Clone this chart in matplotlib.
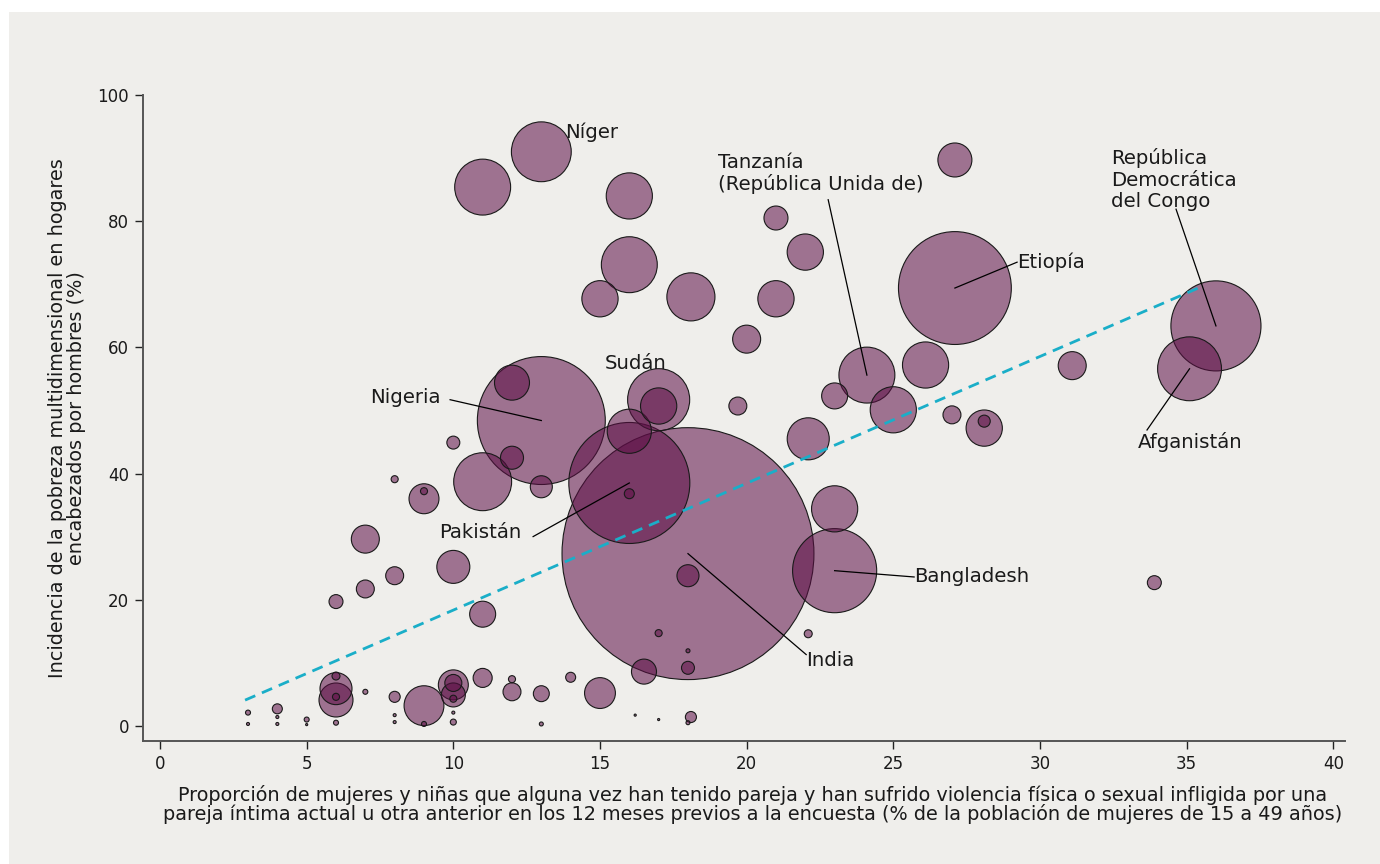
import matplotlib
matplotlib.use("Agg")
import matplotlib.pyplot as plt
from matplotlib.patches import Rectangle
import numpy as np

plt.rcParams["font.family"] = ["DejaVu Sans"]

#
# Data
#

# violencia de pareja (%), pobreza multidimensional (%), tamano (burbuja)
violencia = [
    13.0, 11.0, 16.0, 16.0, 15.0, 18.1, 27.1, 21.0, 22.0, 21.0,
    20.0, 27.1, 26.1, 24.1, 23.0, 25.0, 27.0, 28.1, 28.1, 22.1,
    31.1, 36.0, 35.1, 33.9, 19.7, 13.0, 12.0, 12.0, 13.0, 11.0,
    10.0, 8.0, 9.0, 9.0, 17.0, 17.0, 16.0, 16.0, 16.0, 18.0,
    18.0, 10.0, 8.0, 7.0, 7.0, 6.0, 11.0, 23.0, 23.0, 22.1,
    17.0, 18.0, 18.0, 16.5, 18.1, 15.0, 14.0, 13.0, 12.0, 12.0,
    11.0, 10.0, 10.0, 10.0, 10.0, 10.0, 10.0, 9.0, 9.0, 8.0,
    8.0, 8.0, 7.0, 6.0, 6.0, 6.0, 6.0, 6.0, 4.0, 4.0,
    4.0, 3.0, 3.0, 5.0, 5.0, 13.0, 16.2, 17.0, 18.0,
]
pobreza = [
    91.0, 85.4, 84.0, 73.1, 67.7, 68.0, 89.7, 80.5, 75.1, 67.7,
    61.3, 69.4, 57.2, 55.6, 52.3, 50.1, 49.3, 47.2, 48.3, 45.5,
    57.1, 63.4, 56.6, 22.7, 50.7, 48.4, 54.4, 42.5, 37.9, 38.7,
    44.9, 39.1, 36.0, 37.2, 51.7, 50.7, 46.7, 38.5, 36.8, 27.3,
    23.8, 25.2, 23.8, 29.6, 21.7, 19.7, 17.7, 24.6, 34.4, 14.6,
    14.7, 11.9, 9.2, 8.6, 1.4, 5.2, 7.7, 5.1, 5.4, 7.4,
    7.6, 6.5, 4.9, 6.8, 4.3, 2.1, 0.6, 3.2, 0.3, 4.6,
    1.7, 0.6, 5.4, 5.9, 4.1, 7.9, 4.6, 0.5, 2.7, 1.4,
    0.3, 2.1, 0.3, 1.0, 0.2, 0.3, 1.7, 1.0, 0.5,
]
tamano = [
    79, 69, 47, 69, 29, 51, 25.5, 12.7, 29, 29,
    17.3, 281, 47, 69, 14.9, 47, 7.1, 29, 3.2, 39,
    17.3, 179, 90, 4.3, 7.1, 361, 27, 11.7, 10.7, 74,
    3.7, 1.1, 19.8, 1.1, 85, 29, 43, 323, 2.2, 1400,
    10.7, 24, 7.1, 17.3, 7.1, 4.3, 14.9, 156, 47, 1.4,
    1.1, 0.35, 3.7, 13.8, 2.7, 21, 2.2, 5.6, 7.1, 1.1,
    8.0, 19.8, 12.7, 6.4, 1.1, 0.2, 0.8, 35, 0.55, 2.7,
    0.2, 0.2, 0.55, 22.6, 25.5, 1.4, 1.1, 0.55, 2.2, 0.2,
    0.2, 0.55, 0.2, 0.55, 0.1, 0.35, 0.1, 0.1, 0.35,
]
nombres = [""] * len(violencia)
nombres[0] = "Níger"
nombres[11] = "Etiopía"
nombres[13] = "Tanzanía"
nombres[21] = "RDC"
nombres[22] = "Afganistán"
nombres[25] = "Nigeria"
nombres[34] = "Sudán"
nombres[37] = "Pakistán"
nombres[39] = "India"
nombres[47] = "Bangladesh"

# trend line
tendencia_pendiente = 2.01
tendencia_origen = -1.75
tendencia_x = [2.9, 35.6]

xticks = [0, 5, 10, 15, 20, 25, 30, 35, 40]
yticks = [0, 20, 40, 60, 80, 100]

#
# Styling
#
bg_color = "#efeeeb"
bubble_rgba = (0.36, 0.05, 0.27, 0.55)
edge_color = "#1a1a1a"
trend_color = "#1aaec8"
text_color = "#1a1a1a"
escala = 23.5  # scatter area (pt^2) per unit of tamano
label_size = 13.9
note_size = 14.2

fig = plt.figure(figsize=(13.8, 8.64), dpi=100, facecolor="white")
fig.patches.append(
    Rectangle((9 / 1380, 0), 1 - 9 / 1380, 1 - 12 / 864, transform=fig.transFigure,
              facecolor=bg_color, edgecolor="none", zorder=-10)
)
ax = fig.add_axes([143 / 1380, 123 / 864, 1202 / 1380, 646 / 864])
ax.set_facecolor("none")

x = np.array(violencia)
y = np.array(pobreza)
t = np.array(tamano)
orden = np.argsort(-t)
ax.scatter(x[orden], y[orden], s=t[orden] * escala, facecolors=[bubble_rgba],
           edgecolors=edge_color, linewidths=0.8, zorder=2)

tx = np.array(tendencia_x)
ax.plot(tx, tendencia_pendiente * tx + tendencia_origen, color=trend_color,
        lw=2.0, ls=(0, (4, 2.6)), zorder=3)


def punto(nombre):
    i = nombres.index(nombre)
    return violencia[i], pobreza[i]


def etiqueta(texto, tx, ty, ha="left", linea=None, nombre=None):
    ax.text(tx, ty, texto, ha=ha, va="center", fontsize=note_size,
            color=text_color, linespacing=1.15, zorder=5)
    if linea is not None:
        px, py = punto(nombre)
        ax.plot([linea[0], px], [linea[1], py], color="black", lw=0.9, zorder=4)


etiqueta("Níger", 13.81, 94.1)
etiqueta("Sudán", 16.23, 57.4, ha="center")
etiqueta("Tanzanía\n(República Unida de)", 19.02, 87.6, linea=(22.78, 83.4), nombre="Tanzanía")
etiqueta("Etiopía", 29.22, 73.5, linea=(29.22, 73.5), nombre="Etiopía")
etiqueta("República\nDemocrática\ndel Congo", 32.42, 86.6, linea=(34.64, 81.9), nombre="RDC")
etiqueta("Afganistán", 33.34, 45.0, linea=(33.65, 46.9), nombre="Afganistán")
etiqueta("Nigeria", 9.58, 52.1, ha="right", linea=(9.89, 51.7), nombre="Nigeria")
etiqueta("Pakistán", 12.31, 30.6, ha="right", linea=(12.72, 30.0), nombre="Pakistán")
etiqueta("India", 22.03, 10.3, linea=(22.03, 11.3), nombre="India")
etiqueta("Bangladesh", 25.71, 23.6, linea=(25.71, 23.6), nombre="Bangladesh")

# Axes formatting
ax.set_xlim(-0.58, 40.4)
ax.set_ylim(-2.4, 100)
ax.set_xticks(xticks)
ax.set_yticks(yticks)
for side in ["top", "right"]:
    ax.spines[side].set_visible(False)
for side in ["left", "bottom"]:
    ax.spines[side].set_color("#555555")
    ax.spines[side].set_linewidth(1.4)
ax.tick_params(axis="both", length=6, width=1.0, color="#222222",
               labelsize=12, labelcolor=text_color, pad=4)

ax.set_xlabel(
    "Proporción de mujeres y niñas que alguna vez han tenido pareja y han sufrido violencia física o sexual infligida por una\n"
    "pareja íntima actual u otra anterior en los 12 meses previos a la encuesta (% de la población de mujeres de 15 a 49 años)",
    fontsize=label_size, color=text_color, linespacing=0.95,
)
ax.xaxis.set_label_coords(0.507, -0.068)
ax.set_ylabel(
    "Incidencia de la pobreza multidimensional en hogares\nencabezados por hombres (%)",
    fontsize=label_size, color=text_color, linespacing=1.0, labelpad=8,
)

fig.savefig("out.png", dpi=100, facecolor="white")
